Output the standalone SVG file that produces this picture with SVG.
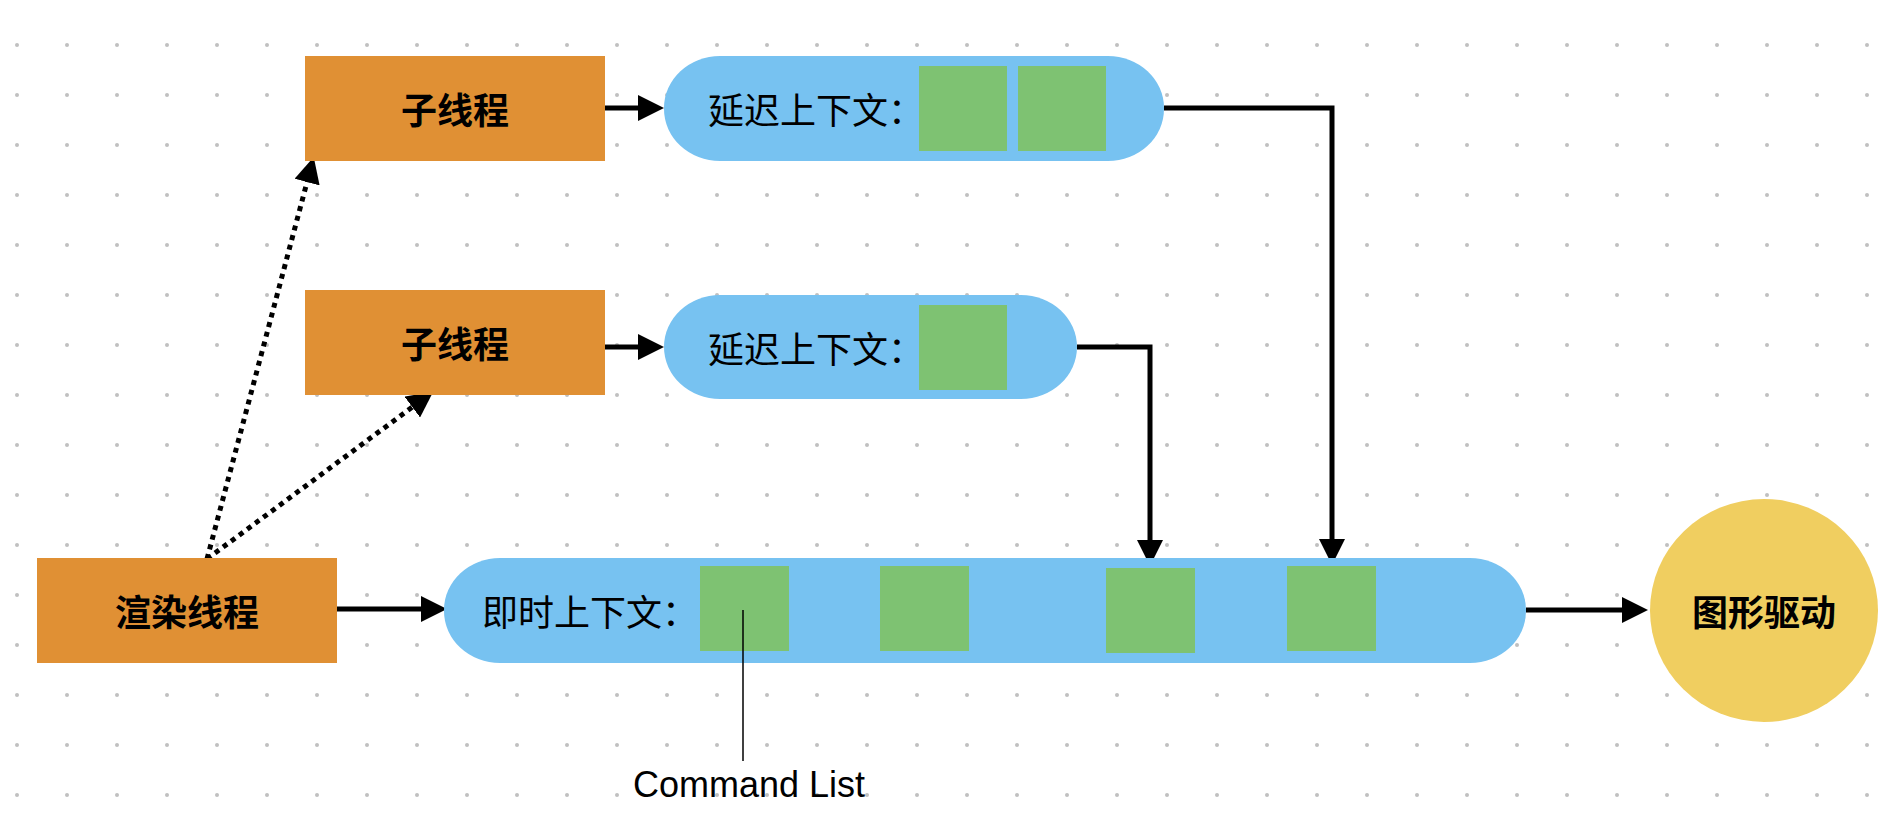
<svg xmlns="http://www.w3.org/2000/svg" width="1904" height="840" viewBox="0 0 1904 840">
<style>
.thread{fill:#E09034}
.ctx{fill:#77C2F1}
.cmd{fill:#7EC272}
.drv{fill:#F0CE60}
.lbl{font-family:"Noto Sans CJK SC","Noto Sans",sans-serif;font-size:36px;fill:#000;dominant-baseline:central}
.b{font-weight:bold;text-anchor:middle}
.conn{fill:none;stroke:#000;stroke-width:5}
.dot{stroke-dasharray:5 5}
</style>
<defs>
<pattern id="grid" x="-8" y="20" width="50" height="50" patternUnits="userSpaceOnUse">
<circle cx="25" cy="25" r="2" fill="#c0c0c0"/>
</pattern>
<marker id="ah" markerUnits="userSpaceOnUse" viewBox="0 -13 26 26" markerWidth="26" markerHeight="26" refX="1" refY="0" orient="auto">
<path d="M0,-13 L26,0 L0,13 z" fill="#000"/>
</marker>
</defs>
<rect x="0" y="0" width="1904" height="840" fill="#fff"/>
<rect x="0" y="20" width="1892" height="800" fill="url(#grid)"/>

<g id="connectors">
<line class="conn" x1="605" y1="108" x2="639" y2="108" marker-end="url(#ah)"/>
<line class="conn" x1="605" y1="347" x2="639" y2="347" marker-end="url(#ah)"/>
<line class="conn" x1="331" y1="609" x2="422" y2="609" marker-end="url(#ah)"/>
<line class="conn" x1="1526" y1="610" x2="1623" y2="610" marker-end="url(#ah)"/>
<polyline class="conn" points="1164,108 1332,108 1332,540" marker-end="url(#ah)"/>
<polyline class="conn" points="1077,347 1150,347 1150,541" marker-end="url(#ah)"/>
<line class="conn dot" x1="207" y1="559" x2="307.3" y2="181.1" marker-end="url(#ah)"/>
<line class="conn dot" x1="207" y1="559" x2="413.1" y2="406.5" marker-end="url(#ah)"/>
</g>

<g id="sub-thread-1">
<rect class="thread" x="305" y="56" width="300" height="105"/>
<text class="lbl b" x="455" y="108">子线程</text>
</g>
<g id="sub-thread-2">
<rect class="thread" x="305" y="290" width="300" height="105"/>
<text class="lbl b" x="455" y="342">子线程</text>
</g>
<g id="render-thread">
<rect class="thread" x="37" y="558" width="300" height="105"/>
<text class="lbl b" x="187" y="610">渲染线程</text>
</g>

<g id="deferred-context-1">
<rect class="ctx" x="664" y="56" width="500" height="105" rx="56" ry="52"/>
<text class="lbl" x="708" y="108">延迟上下文：</text>
<rect class="cmd" x="919" y="66" width="88" height="85"/>
<rect class="cmd" x="1018" y="66" width="88" height="85"/>
</g>
<g id="deferred-context-2">
<rect class="ctx" x="664" y="295" width="413" height="104" rx="56" ry="52"/>
<text class="lbl" x="708" y="347">延迟上下文：</text>
<rect class="cmd" x="919" y="305" width="88" height="85"/>
</g>
<g id="immediate-context">
<rect class="ctx" x="444" y="558" width="1082" height="105" rx="56" ry="52"/>
<text class="lbl" x="482" y="610">即时上下文：</text>
<rect class="cmd" x="700" y="566" width="89" height="85"/>
<rect class="cmd" x="880" y="566" width="89" height="85"/>
<rect class="cmd" x="1106" y="568" width="89" height="85"/>
<rect class="cmd" x="1287" y="566" width="89" height="85"/>
</g>

<g id="graphics-driver">
<ellipse class="drv" cx="1764" cy="610.5" rx="114" ry="111.5"/>
<text class="lbl b" x="1764" y="610">图形驱动</text>
</g>

<g id="command-list-label">
<line x1="743" y1="610" x2="743" y2="761" stroke="#000" stroke-width="1.5"/>
<text x="749" y="797" text-anchor="middle" font-family="Liberation Sans, Arial, sans-serif" font-size="36" fill="#000">Command List</text>
</g>
</svg>
